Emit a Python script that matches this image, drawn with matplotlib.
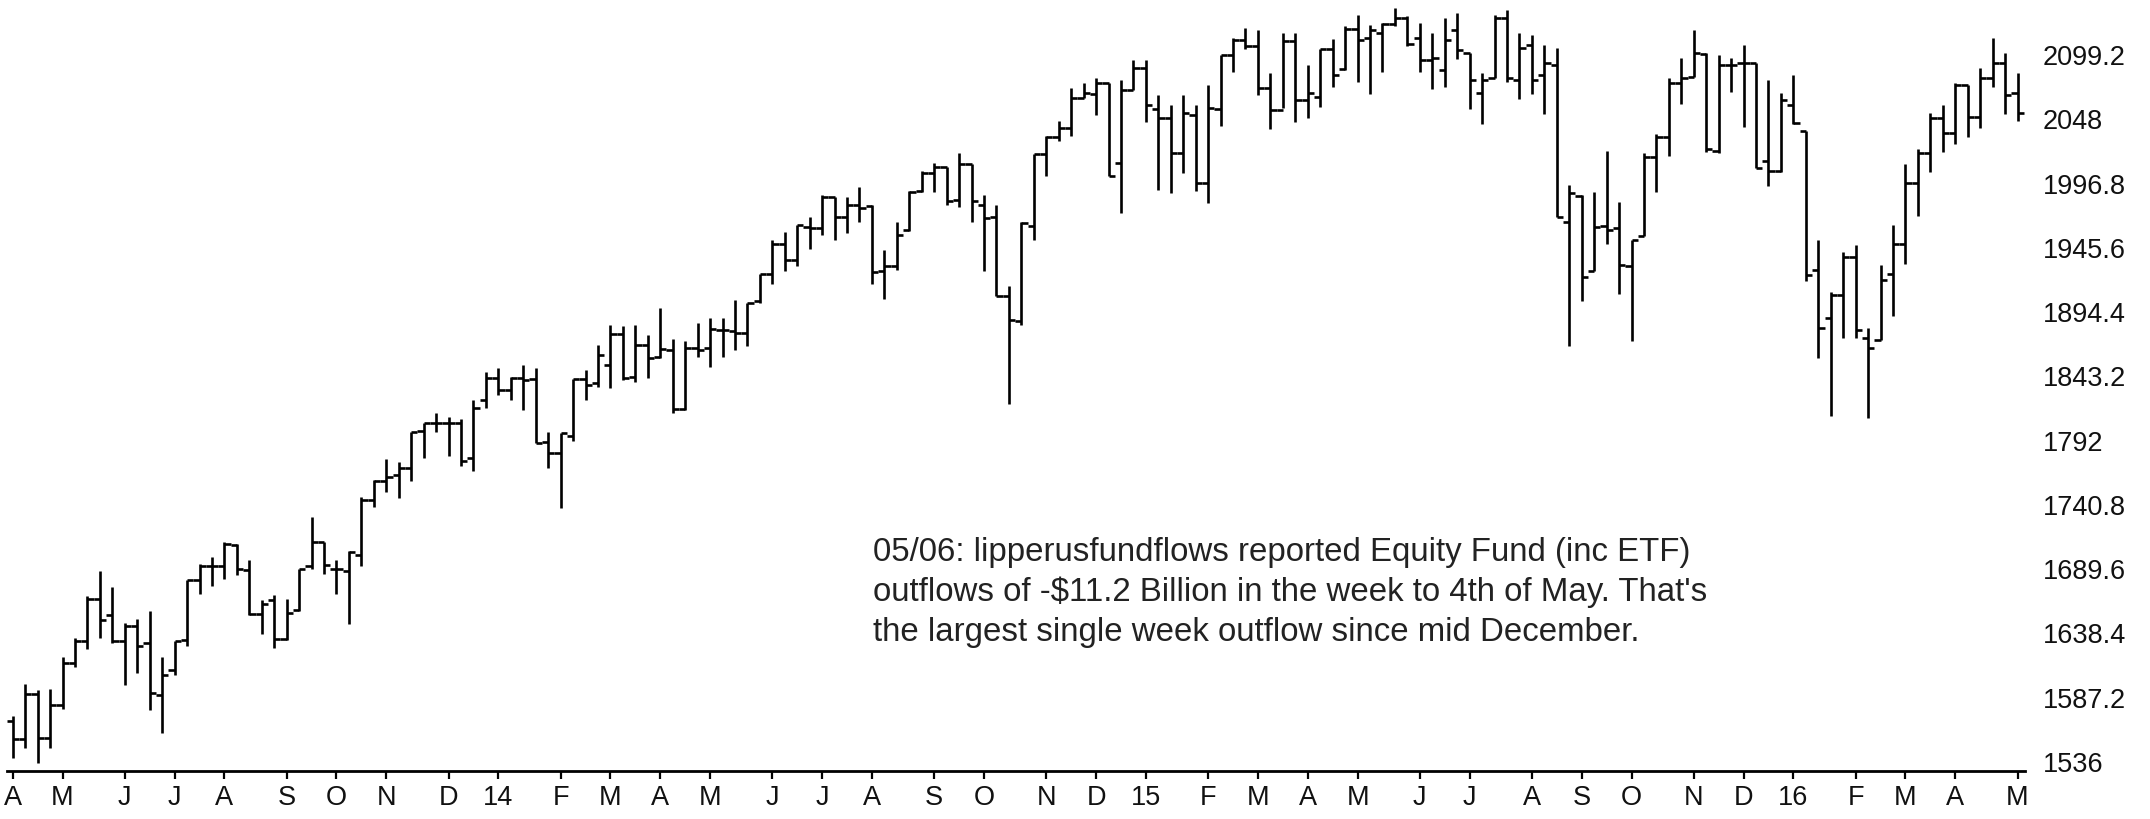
import numpy as np
import pandas as pd
import matplotlib
matplotlib.use("Agg")
import matplotlib.pyplot as plt

plt.rcParams['font.family'] = ['Liberation Sans', 'DejaVu Sans']

# weekly bars, first week ends 2013-04-05
opens = [1569, 1554, 1590, 1555, 1581, 1615, 1632, 1666, 1653, 1632,
         1644, 1631, 1589, 1609, 1633, 1681, 1692, 1692, 1709, 1689,
         1654, 1665, 1634, 1657, 1692, 1711, 1690, 1688, 1701, 1745,
         1760, 1765, 1770, 1800, 1806, 1806, 1806, 1778, 1824, 1842,
         1832, 1842, 1841, 1791, 1782, 1796, 1841, 1838, 1852, 1877,
         1843, 1868, 1859, 1864, 1817, 1866, 1866, 1880, 1879, 1878,
         1903, 1925, 1949, 1936, 1962, 1961, 1986, 1970, 1980, 1979,
         1927, 1931, 1960, 1991, 2005, 2010, 1984, 2012, 1980, 1970,
         1907, 1887, 1963, 2020, 2034, 2041, 2065, 2068, 2077, 2013,
         2071, 2089, 2056, 2049, 2021, 2051, 1997, 2056, 2099, 2111,
         2106, 2073, 2055, 2110, 2063, 2066, 2104, 2088, 2120, 2113,
         2117, 2124, 2129, 2113, 2095, 2087, 2119, 2101, 2069, 2081,
         2129, 2079, 2107, 2083, 2091, 1966, 1987, 1927, 1963, 1961,
         1931, 1955, 2018, 2034, 2077, 2082, 2100, 2023, 2091, 2093,
         2093, 2015, 2007, 2059, 2039, 1928, 1890, 1908, 1938, 1874,
         1872, 1925, 1949, 1997, 2021, 2049, 2037, 2075, 2050, 2081,
         2093, 2069]
highs = [1573, 1598, 1593, 1594, 1620, 1635, 1668, 1688, 1675, 1647,
         1650, 1656, 1620, 1632, 1681, 1694, 1699, 1711, 1710, 1697,
         1665, 1669, 1666, 1690, 1731, 1711, 1697, 1704, 1747, 1761,
         1777, 1775, 1799, 1806, 1814, 1811, 1809, 1824, 1847, 1850,
         1843, 1852, 1850, 1799, 1798, 1841, 1848, 1868, 1884, 1883,
         1884, 1876, 1898, 1873, 1871, 1886, 1890, 1890, 1904, 1902,
         1925, 1952, 1958, 1964, 1970, 1988, 1986, 1986, 1994, 1980,
         1944, 1966, 1991, 2007, 2013, 2010, 2021, 2012, 1988, 1980,
         1915, 1966, 2020, 2035, 2047, 2073, 2077, 2081, 2077, 2079,
         2095, 2095, 2067, 2059, 2067, 2059, 2075, 2099, 2113, 2121,
         2119, 2085, 2117, 2117, 2091, 2104, 2112, 2122, 2131, 2123,
         2125, 2137, 2130, 2125, 2117, 2129, 2133, 2101, 2085, 2131,
         2135, 2117, 2115, 2107, 2105, 1996, 1988, 1990, 2023, 1982,
         1952, 2021, 2036, 2081, 2097, 2119, 2101, 2099, 2097, 2107,
         2093, 2079, 2069, 2083, 2039, 1952, 1910, 1942, 1948, 1882,
         1932, 1964, 2012, 2024, 2053, 2059, 2077, 2075, 2089, 2113,
         2101, 2085]
lows = [1539, 1547, 1535, 1547, 1578, 1612, 1626, 1635, 1631, 1597,
        1607, 1577, 1559, 1605, 1628, 1670, 1676, 1682, 1685, 1653,
        1638, 1627, 1633, 1656, 1690, 1686, 1670, 1646, 1692, 1739,
        1751, 1746, 1760, 1778, 1799, 1780, 1772, 1768, 1818, 1828,
        1824, 1816, 1790, 1770, 1738, 1792, 1824, 1835, 1834, 1840,
        1839, 1842, 1858, 1814, 1816, 1859, 1851, 1859, 1864, 1867,
        1902, 1917, 1927, 1931, 1945, 1956, 1952, 1957, 1966, 1917,
        1905, 1928, 1959, 1990, 1990, 1980, 1978, 1966, 1927, 1907,
        1821, 1884, 1952, 2003, 2031, 2035, 2065, 2051, 2003, 1973,
        2071, 2046, 1992, 1989, 2005, 1991, 1981, 2043, 2086, 2104,
        2067, 2040, 2057, 2046, 2049, 2058, 2074, 2087, 2078, 2068,
        2086, 2122, 2106, 2086, 2072, 2074, 2096, 2056, 2044, 2081,
        2078, 2064, 2068, 2052, 1970, 1867, 1903, 1927, 1949, 1909,
        1871, 1955, 1990, 2019, 2060, 2082, 2022, 2021, 2070, 2042,
        2009, 1995, 2006, 2044, 1919, 1858, 1812, 1874, 1874, 1810,
        1872, 1891, 1933, 1971, 2006, 2022, 2028, 2034, 2041, 2074,
        2052, 2047]
closes = [1554, 1590, 1555, 1581, 1615, 1632, 1666, 1649, 1632, 1644,
          1628, 1591, 1605, 1632, 1681, 1692, 1692, 1710, 1690, 1654,
          1662, 1634, 1655, 1690, 1711, 1693, 1690, 1703, 1745, 1760,
          1763, 1770, 1799, 1806, 1806, 1806, 1776, 1818, 1842, 1832,
          1842, 1840, 1790, 1782, 1798, 1841, 1836, 1860, 1877, 1842,
          1868, 1858, 1865, 1817, 1866, 1864, 1881, 1880, 1878, 1902,
          1925, 1949, 1936, 1964, 1961, 1986, 1970, 1980, 1977, 1926,
          1931, 1956, 1990, 2005, 2010, 1983, 2012, 1983, 1969, 1907,
          1888, 1965, 2020, 2034, 2041, 2065, 2069, 2077, 2003, 2071,
          2089, 2059, 2049, 2021, 2053, 1997, 2057, 2099, 2111, 2106,
          2073, 2055, 2110, 2063, 2069, 2104, 2083, 2120, 2111, 2119,
          2124, 2129, 2108, 2095, 2097, 2111, 2103, 2079, 2079, 2129,
          2081, 2105, 2079, 2093, 1970, 1989, 1922, 1962, 1960, 1932,
          1952, 2018, 2034, 2077, 2081, 2101, 2024, 2091, 2091, 2093,
          2009, 2007, 2063, 2045, 1924, 1882, 1908, 1938, 1880, 1866,
          1920, 1949, 1997, 2021, 2049, 2037, 2075, 2050, 2081, 2093,
          2067, 2053]

price_ticks = [1536, 1587.2, 1638.4, 1689.6, 1740.8, 1792, 1843.2,
               1894.4, 1945.6, 1996.8, 2048, 2099.2]
price_labels = ["1536", "1587.2", "1638.4", "1689.6", "1740.8", "1792",
                "1843.2", "1894.4", "1945.6", "1996.8", "2048", "2099.2"]
month_letters = "JFMAMJJASOND"

note = ("05/06: lipperusfundflows reported Equity Fund (inc ETF)\n"
        "outflows of -$11.2 Billion in the week to 4th of May. That's\n"
        "the largest single week outflow since mid December.")

weeks = pd.date_range("2013-04-05", periods=len(closes), freq="W-FRI")
x = np.arange(len(closes))

# one tick at the first bar of every month, year digits for January
tick_pos, tick_lab = [], []
for i, d in enumerate(weeks):
    if i == 0 or d.month != weeks[i - 1].month:
        tick_pos.append(i)
        tick_lab.append(str(d.year)[2:] if d.month == 1 else month_letters[d.month - 1])

fig = plt.figure(figsize=(21.5, 8.19), dpi=100)
ax = fig.add_axes([7 / 2150, 48 / 819, 2018 / 2150, 771 / 819])

lw = 1.9
ax.vlines(x, lows, highs, color="black", lw=lw)
ax.hlines(opens, x - 0.5, x, color="black", lw=lw)
ax.hlines(closes, x, x + 0.5, color="black", lw=lw)

ax.set_xlim(-0.46, 161.6)
ax.set_ylim(1528.8, 2143)

for s in ["top", "left", "right"]:
    ax.spines[s].set_visible(False)
ax.spines["bottom"].set_linewidth(2)

ax.set_xticks(tick_pos)
ax.set_xticklabels(tick_lab, fontsize=19.5, color="#111111")
ax.tick_params(axis="x", direction="out", length=6, width=1.6, pad=4)

ax.yaxis.tick_right()
ax.set_yticks(price_ticks)
ax.set_yticklabels(price_labels, fontsize=19.5, color="#111111")
ax.tick_params(axis="y", length=0, pad=13)

fig.text(873 / 2150, 1 - 537 / 819, note, fontsize=23.8, color="#222222",
         va="top", ha="left", linespacing=1.36)

fig.savefig("out.png", dpi=100)
